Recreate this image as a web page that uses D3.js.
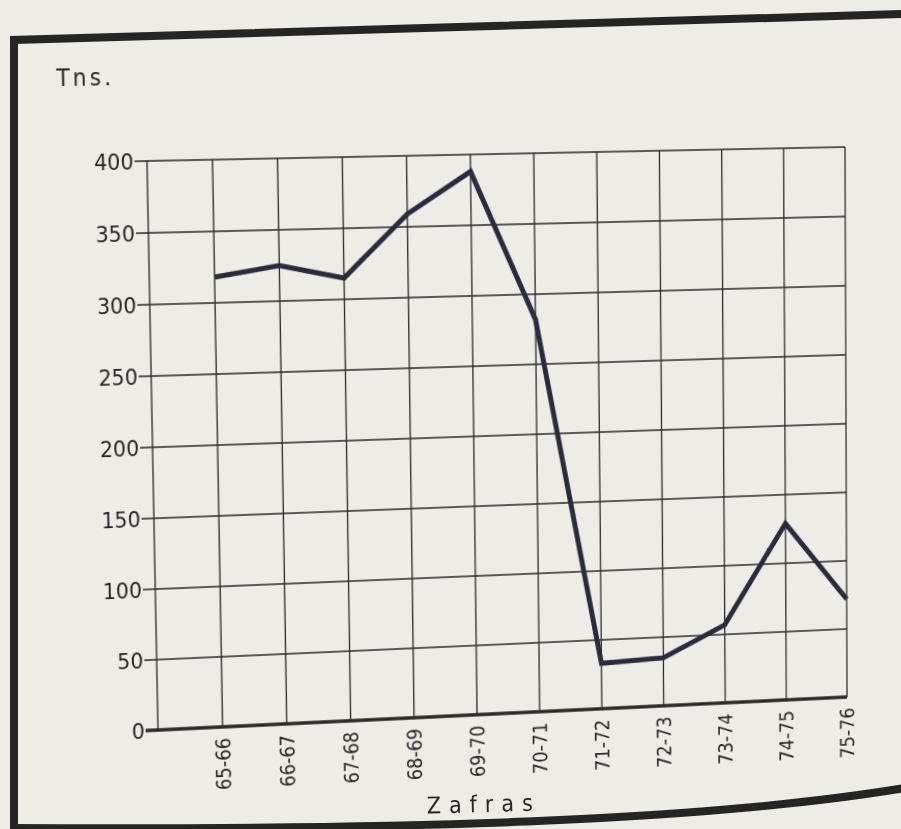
<!DOCTYPE html>
<html>
<head>
<meta charset="utf-8">
<script src="https://cdn.jsdelivr.net/npm/d3@7"></script>
<style>
  html, body { margin: 0; padding: 0; background: #edece7; overflow: hidden; width: 901px; height: 829px; }
  #stage, #frame { position: absolute; left: 0; top: 0; width: 901px; height: 829px; }
  #stage { transform-origin: 0 0; }
  svg text { font-family: "DejaVu Sans Condensed", "DejaVu Sans", sans-serif; font-stretch: condensed; fill: #262626; }
</style>
</head>
<body>
<div id="stage"></div>
<div id="frame"></div>
<script>
// ---- data ----
const categories = ["65-66","66-67","67-68","68-69","69-70","70-71","71-72","72-73","73-74","74-75","75-76"];
const values     = [318, 325, 315, 359, 388, 282, 33, 35, 57, 129, 72];
const yTicks     = [0, 50, 100, 150, 200, 250, 300, 350, 400];
const yUnit      = "Tns.";
const xTitle     = "Zafras";

// ---- layout (flat drawing) ----
const W = 901, H = 829;
const plot = { left: 150, right: 845, top: 155, bottom: 715 };

const svg = d3.select("#stage").append("svg").attr("width", W).attr("height", H);

const x = d3.scaleLinear().domain([-1, categories.length - 1]).range([plot.left, plot.right]);
const y = d3.scaleLinear().domain([0, 400]).range([plot.bottom, plot.top]);

const grid = svg.append("g").attr("stroke", "#2a2a2a").attr("fill", "none");

// horizontal grid lines (with tick extending left)
grid.selectAll("line.h").data(yTicks).join("line")
  .attr("class", "h")
  .attr("x1", plot.left - 12).attr("x2", plot.right)
  .attr("y1", d => y(d)).attr("y2", d => y(d))
  .attr("stroke-width", d => d === 0 ? 3.4 : 1.3);

// vertical lines: left axis + one per category
grid.selectAll("line.v").data([-1].concat(d3.range(categories.length))).join("line")
  .attr("class", "v")
  .attr("x1", d => x(d)).attr("x2", d => x(d))
  .attr("y1", y(400)).attr("y2", y(0))
  .attr("stroke-width", 1.3);

// y tick labels
svg.append("g").selectAll("text").data(yTicks).join("text")
  .attr("x", plot.left - 13)
  .attr("y", d => y(d))
  .attr("dy", "0.36em")
  .attr("text-anchor", "end")
  .attr("font-size", 22)
  .text(d => d);

// x tick labels (rotated)
svg.append("g").selectAll("text").data(categories).join("text")
  .attr("transform", (d, i) => `translate(${x(i)},${plot.bottom + 11}) rotate(-90)`)
  .attr("dy", "0.36em")
  .attr("text-anchor", "end")
  .attr("font-size", 20)
  .text(d => d);

// unit label
svg.append("text")
  .attr("x", 65).attr("y", 81)
  .attr("font-size", 23)
  .attr("letter-spacing", 3)
  .text(yUnit);

// data line
const line = d3.line().x((d, i) => x(i)).y(d => y(d));
svg.append("path")
  .datum(values)
  .attr("d", line)
  .attr("fill", "none")
  .attr("stroke", "#2b2b3b")
  .attr("stroke-width", 5)
  .attr("stroke-linejoin", "miter");

// ---- photographed page frame and axis title (drawn in photo space, on top) ----
const fsvg = d3.select("#frame").append("svg").attr("width", W).attr("height", H);
fsvg.append("path")
  .attr("d", "M14,835 L14,40 L905,14")
  .attr("fill", "none").attr("stroke", "#252525").attr("stroke-width", 8);
fsvg.append("path")
  .attr("d", "M10,828 C400,830 700,822 905,788")
  .attr("fill", "none").attr("stroke", "#252525").attr("stroke-width", 8);
fsvg.append("text")
  .attr("transform", "translate(484,812) rotate(-1.5)")
  .attr("text-anchor", "middle")
  .attr("font-size", 23)
  .attr("letter-spacing", 8)
  .text(xTitle);

// ---- photo keystone: map flat plot rectangle onto the photographed quadrilateral ----
function solve(A, b) {
  const n = b.length;
  const M = A.map((r, i) => r.concat([b[i]]));
  for (let c = 0; c < n; c++) {
    let p = c;
    for (let r = c + 1; r < n; r++) if (Math.abs(M[r][c]) > Math.abs(M[p][c])) p = r;
    [M[c], M[p]] = [M[p], M[c]];
    for (let r = 0; r < n; r++) {
      if (r === c) continue;
      const f = M[r][c] / M[c][c];
      for (let k = c; k <= n; k++) M[r][k] -= f * M[c][k];
    }
  }
  return M.map((r, i) => r[n] / r[i]);
}
function homography(src, dst) {
  const A = [], b = [];
  for (let i = 0; i < 4; i++) {
    const [sx, sy] = src[i], [u, v] = dst[i];
    A.push([sx, sy, 1, 0, 0, 0, -u * sx, -u * sy]); b.push(u);
    A.push([0, 0, 0, sx, sy, 1, -v * sx, -v * sy]); b.push(v);
  }
  return solve(A, b);
}
const src = [[plot.left, plot.top], [plot.right, plot.top], [plot.right, plot.bottom], [plot.left, plot.bottom]];
const dst = [[147, 161], [845, 147], [847, 697], [158, 730]];
const h = homography(src, dst);
document.getElementById("stage").style.transform =
  `matrix3d(${h[0]},${h[3]},0,${h[6]},${h[1]},${h[4]},0,${h[7]},0,0,1,0,${h[2]},${h[5]},0,1)`;
</script>
</body>
</html>
